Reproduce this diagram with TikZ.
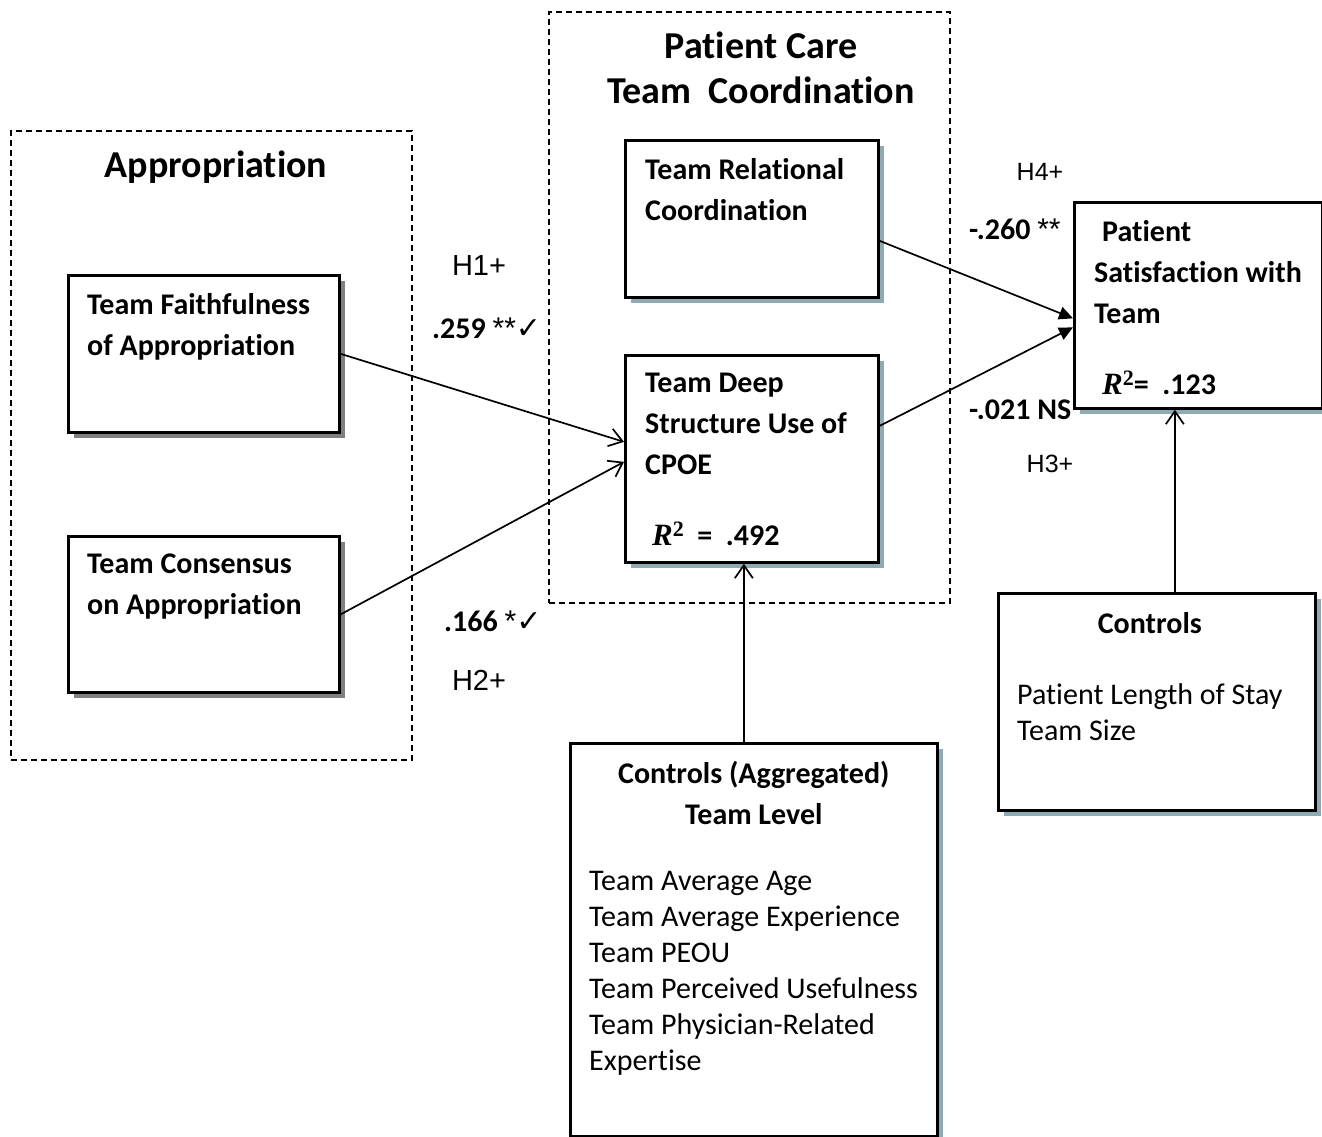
\documentclass[tikz,border=0pt]{standalone}
\usepackage{fontspec}
\setmainfont{Carlito}[Ligatures=NoCommon]
\newfontfamily\hypfont{Liberation Sans}
\newfontfamily\chkfont{DejaVu Sans}
\newfontfamily\serffont{Liberation Serif}
\usetikzlibrary{positioning, arrows.meta, shadows}

\definecolor{shadegrey}{RGB}{128,128,128}
\definecolor{shadeblue}{RGB}{143,170,178}

\newcommand{\rsq}{{\serffont\bfseries\itshape\fontsize{31}{31}\selectfont R}\raisebox{9pt}{\serffont\fontsize{22}{22}\selectfont 2}}
\newcommand{\chk}{{\chkfont\fontsize{30}{30}\selectfont ✓}}
\newcommand{\stars}[1]{{\hypfont\mdseries #1}}

\begin{document}
\begin{tikzpicture}[
    x=1pt, y=-1pt,
    openarrow/.style={-{Straight Barb[length=13pt, width=18pt]}, line width=1.7pt},
    filledtip/.style={-{Triangle[length=14pt, width=13pt]}, line width=1.7pt},
    groupbox/.style={draw, line width=1.9pt, dash pattern=on 6pt off 4pt, anchor=north west, inner sep=0pt},
    box/.style={draw, line width=2.7pt, fill=white, anchor=north west, inner sep=0pt},
    greybox/.style={box, drop shadow={shadow xshift=6pt, shadow yshift=-6pt, fill=shadegrey, opacity=1}},
    bluebox/.style={box, drop shadow={shadow xshift=6pt, shadow yshift=-6pt, fill=shadeblue, opacity=1}},
    heading/.style={font=\fontsize{38}{45}\selectfont\bfseries, align=center, inner sep=0pt},
    boxtext/.style={font=\fontsize{30}{41}\selectfont\bfseries, align=left, inner sep=0pt},
    listtext/.style={font=\fontsize{30}{36}\selectfont, align=left, inner sep=0pt},
    hyp/.style={font=\hypfont\fontsize{29}{29}\selectfont, inner sep=0pt},
    coef/.style={font=\fontsize{30}{30}\selectfont\bfseries, inner sep=0pt, anchor=base west}
]
    \useasboundingbox (0,0) rectangle (1322,1137);

    \node[groupbox, minimum width=401pt, minimum height=629pt] (approp) at (10,130) {};
    \node[groupbox, minimum width=401pt, minimum height=591pt] (coord) at (548,11) {};
    \node[heading, anchor=base] (appropttl) at (216,177) {Appropriation};
    \node[heading, anchor=north] (coordttl) at (761,32) {Patient Care\\Team\ \ Coordination};

    \node[greybox, minimum width=271pt, minimum height=157pt] (faith) at (67,274) {};
    \node[greybox, minimum width=271pt, minimum height=156pt] (consensus) at (67,535) {};
    \node[bluebox, minimum width=253pt, minimum height=157pt] (relational) at (624,139) {};
    \node[bluebox, minimum width=253pt, minimum height=207pt] (deep) at (624,354) {};
    \node[bluebox, minimum width=248pt, minimum height=206pt] (satisfaction) at (1073,201) {};
    \node[bluebox, minimum width=367pt, minimum height=393pt] (ctrlteam) at (569,742) {};
    \node[bluebox, minimum width=317pt, minimum height=217pt] (ctrlpatient) at (997,592) {};

    \node[boxtext, below right=19pt and 20pt of faith.north west] (faithtxt) {Team Faithfulness\\of Appropriation};
    \node[boxtext, below right=19pt and 20pt of consensus.north west] (consensustxt) {Team Consensus\\on Appropriation};
    \node[boxtext, below right=19pt and 21pt of relational.north west] (relationaltxt) {Team Relational\\Coordination};
    \node[boxtext, below right=19pt and 21pt of deep.north west] (deeptxt) {Team Deep\\Structure Use of\\CPOE\\[30pt]\hspace{7pt}\rsq\ \ =\ \ .492};
    \node[boxtext, below right=19pt and 21pt of satisfaction.north west] (satisfactiontxt) {\hspace{8pt}Patient\\Satisfaction with\\Team\\[30pt]\hspace{8pt}\rsq=\ \ .123};
    \node[boxtext, align=center, below=19pt of ctrlteam.north] (ctrlteamttl) {Controls (Aggregated)\\Team Level};
    \node[listtext, below right=129pt and 20pt of ctrlteam.north west] (ctrlteamlist) {Team Average Age\\Team Average Experience\\Team PEOU\\Team Perceived Usefulness\\Team Physician-Related\\Expertise};
    \node[boxtext, below=20pt of ctrlpatient.north, xshift=-7pt] (ctrlpatientttl) {Controls};
    \node[listtext, below right=91pt and 20pt of ctrlpatient.north west] (ctrlpatientlist) {Patient Length of Stay\\Team Size};

    \node[hyp] (h1) at (479,266) {H1+};
    \node[coef] (c1) at (432,338) {.259 \stars{**}\chk};
    \node[coef] (c2) at (444,631) {.166 \stars{*}\chk};
    \node[hyp] (h2) at (479,680) {H2+};
    \node[hyp, font=\hypfont\fontsize{25}{25}\selectfont] (h4) at (1040,172) {H4+};
    \node[coef] (c4) at (969,239) {-.260 \stars{**}};
    \node[coef] (c3) at (969,419) {-.021 NS};
    \node[hyp, font=\hypfont\fontsize{25}{25}\selectfont] (h3) at (1050,464) {H3+};

    \path (faith.east) edge[openarrow] ([yshift=17pt]deep.west)
          (consensus.east) edge[openarrow] ([yshift=-3pt]deep.west)
          ([xshift=-10pt]ctrlteam.north) edge[openarrow] ([xshift=-10pt]ctrlteam.north |- deep.south)
          ([xshift=18pt]ctrlpatient.north) edge[openarrow] ([xshift=18pt]ctrlpatient.north |- satisfaction.south)
          ([yshift=-22pt]relational.east) edge[filledtip] ([yshift=-13pt]satisfaction.west)
          ([yshift=33pt]deep.east) edge[filledtip] ([yshift=-22pt]satisfaction.west);

\end{tikzpicture}
\end{document}
